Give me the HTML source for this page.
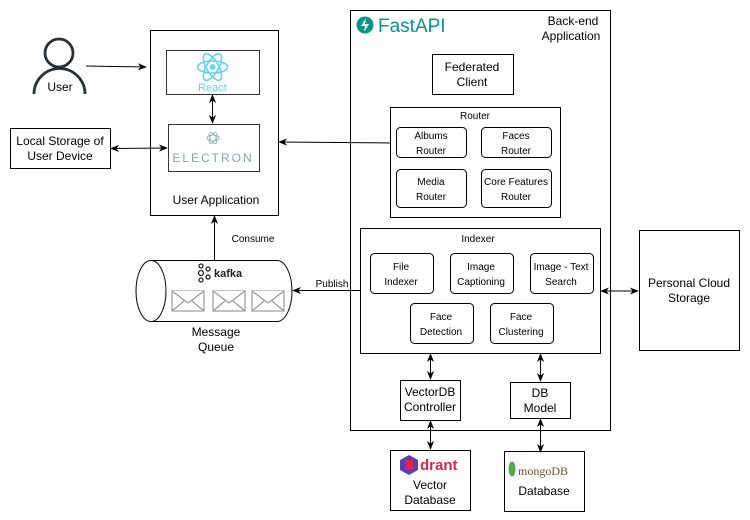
<!DOCTYPE html>
<html><head><meta charset="utf-8"><style>
html,body{margin:0;padding:0;background:#fff;}
svg{display:block;font-family:"Liberation Sans",Arial,sans-serif;}
</style></head><body>
<svg width="750" height="520" viewBox="0 0 750 520" xmlns="http://www.w3.org/2000/svg">
<defs>
<marker id="a" viewBox="0 0 10 10" refX="9" refY="5" markerWidth="9" markerHeight="9" orient="auto-start-reverse"><path d="M0,1 L10,5 L0,9 L3,5 z" fill="#000"/></marker>
</defs>
<rect width="750" height="520" fill="#fff"/>
<g fill="none" stroke="#000" stroke-width="1">
<circle cx="59" cy="53" r="14" stroke-width="2.8" stroke="#2b2f38"/>
<path d="M34,94 A25,25 0 0 1 85,94" stroke-width="2.8" stroke="#2b2f38"/>
<line x1="86" y1="66" x2="146" y2="67" marker-end="url(#a)"/>
<rect x="10.5" y="128.5" width="100" height="40"/>
<line x1="111" y1="148.5" x2="167" y2="148" marker-start="url(#a)" marker-end="url(#a)"/>
<rect x="150.5" y="30.5" width="128" height="185"/>
<rect x="166.5" y="50.5" width="93" height="44" stroke="#333"/>
<rect x="168.5" y="124.5" width="91" height="47" stroke="#333"/>
<line x1="212.5" y1="95" x2="212.5" y2="123" marker-start="url(#a)" marker-end="url(#a)"/>
<line x1="390" y1="143" x2="279" y2="142" marker-end="url(#a)"/>
<rect x="350.5" y="10.5" width="260" height="420"/>
<rect x="432.5" y="54.5" width="81" height="40"/>
<rect x="390.5" y="107.5" width="170" height="110"/>
<rect x="396.5" y="127.5" width="70" height="30" rx="4"/>
<rect x="481.5" y="127.5" width="70" height="30" rx="4"/>
<rect x="396.5" y="169.5" width="70" height="38" rx="4"/>
<rect x="481.5" y="169.5" width="70" height="38" rx="4"/>
<rect x="360.5" y="228.5" width="240" height="125"/>
<rect x="370.5" y="253.5" width="63" height="40" rx="4"/>
<rect x="450.5" y="253.5" width="63" height="40" rx="4"/>
<rect x="530.5" y="253.5" width="63" height="40" rx="4"/>
<rect x="410.5" y="303.5" width="63" height="40" rx="4"/>
<rect x="490.5" y="303.5" width="63" height="40" rx="4"/>
<rect x="639.5" y="230.5" width="100" height="120"/>
<line x1="601" y1="291" x2="638" y2="291" marker-start="url(#a)" marker-end="url(#a)"/>
<rect x="400.5" y="380.5" width="60" height="40"/>
<rect x="510.5" y="382.5" width="60" height="36"/>
<line x1="430.5" y1="354" x2="430.5" y2="379" marker-start="url(#a)" marker-end="url(#a)"/>
<line x1="540.5" y1="354" x2="540.5" y2="381" marker-start="url(#a)" marker-end="url(#a)"/>
<line x1="430.5" y1="421" x2="430.5" y2="449" marker-start="url(#a)" marker-end="url(#a)"/>
<line x1="540.5" y1="419" x2="540.5" y2="452" marker-start="url(#a)" marker-end="url(#a)"/>
<rect x="390.5" y="450.5" width="80" height="60"/>
<rect x="504.5" y="451.5" width="80" height="60"/>
<path d="M151,260.5 L277,260.5 A15,30.5 0 0 1 277,321.5 L151,321.5"/>
<ellipse cx="151" cy="291" rx="15" ry="30.5"/>
<line x1="360" y1="290.5" x2="293" y2="290.5" marker-end="url(#a)"/>
<line x1="214.5" y1="260" x2="214.5" y2="216" marker-end="url(#a)"/>
</g>
<g fill="#fff" stroke="#999" stroke-width="1.2">
<rect x="172" y="291" width="32" height="20"/><path d="M172,291 L188,303 L204,291 M172,311 L184,301 M204,311 L192,301"/>
<rect x="213" y="291" width="32" height="20"/><path d="M213,291 L229,303 L245,291 M213,311 L225,301 M245,311 L233,301"/>
<rect x="252" y="291" width="32" height="20"/><path d="M252,291 L268,303 L284,291 M252,311 L264,301 M284,311 L272,301"/>
</g>
<g fill="none" stroke="#5ed3f3" stroke-width="1.6">
<ellipse cx="212.5" cy="67" rx="15" ry="6"/>
<ellipse cx="212.5" cy="67" rx="15" ry="6" transform="rotate(60 212.5 67)"/>
<ellipse cx="212.5" cy="67" rx="15" ry="6" transform="rotate(-60 212.5 67)"/>
</g>
<circle cx="212.5" cy="67" r="2.8" fill="#5ed3f3"/>
<text x="212.5" y="91" font-size="11" fill="#5ed3f3" text-anchor="middle">React</text>
<g fill="none" stroke="#9fb8bc" stroke-width="1"><ellipse cx="213" cy="138" rx="6" ry="3"/><ellipse cx="213" cy="138" rx="6" ry="3" transform="rotate(60 213 138)"/><ellipse cx="213" cy="138" rx="6" ry="3" transform="rotate(-60 213 138)"/></g>
<text x="213" y="162" font-size="12" fill="#8aa3a8" text-anchor="middle" letter-spacing="2">ELECTRON</text>
<circle cx="365" cy="25" r="8.5" fill="#079588"/>
<path d="M366,18 L361,26 L365,26 L364,32 L369,24 L365,24 z" fill="#fff"/>
<text x="378" y="32" font-size="19" fill="#079588">FastAPI</text>
<g fill="none" stroke="#222" stroke-width="1.3"><circle cx="201" cy="266" r="2"/><circle cx="201" cy="273" r="2.5"/><circle cx="201" cy="280" r="2"/><circle cx="208" cy="269" r="2"/><circle cx="208" cy="277" r="2"/></g>
<text x="214" y="277" font-size="11" font-weight="bold" fill="#222">kafka</text>
<path d="M409,455 L418,460 L418,470 L409,475 L400,470 L400,460 z" fill="#5a3fb3"/>
<rect x="405" y="460" width="8" height="10" fill="#dc244c"/>
<text x="420" y="470" font-size="15" font-weight="bold" fill="#dc244c">drant</text>
<ellipse cx="512" cy="469" rx="3.5" ry="7.5" fill="#4fa94d"/>
<text x="518" y="475" font-size="12" fill="#6b4f2f" font-family="Liberation Serif,serif">mongoDB</text>
<g font-size="12" fill="#000" text-anchor="middle">
<text x="60" y="91">User</text>
<text x="60" y="145">Local Storage of</text><text x="60" y="160">User Device</text>
<text x="216" y="204">User Application</text>
<text x="573" y="25">Back-end</text><text x="571" y="40">Application</text>
<text x="472" y="71">Federated</text><text x="472" y="86">Client</text>
<text x="689" y="287">Personal Cloud</text><text x="689" y="302">Storage</text>
<text x="430" y="396">VectorDB</text><text x="430" y="411">Controller</text>
<text x="540" y="397">DB</text><text x="540" y="412">Model</text>
<text x="430" y="489">Vector</text><text x="430" y="504">Database</text>
<text x="544" y="495">Database</text>
<text x="216" y="336">Message</text><text x="216" y="351">Queue</text>
</g>
<g font-size="10" fill="#000" text-anchor="middle">
<text x="475" y="119">Router</text>
<text x="431" y="139">Albums</text><text x="431" y="154">Router</text>
<text x="516" y="139">Faces</text><text x="516" y="154">Router</text>
<text x="431" y="185">Media</text><text x="431" y="200">Router</text>
<text x="516" y="185">Core Features</text><text x="516" y="200">Router</text>
<text x="478" y="242">Indexer</text>
<text x="401" y="270">File</text><text x="401" y="285">Indexer</text>
<text x="481" y="270">Image</text><text x="481" y="285">Captioning</text>
<text x="561" y="270">Image - Text</text><text x="561" y="285">Search</text>
<text x="441" y="320">Face</text><text x="441" y="335">Detection</text>
<text x="521" y="320">Face</text><text x="521" y="335">Clustering</text>
<text x="253" y="242">Consume</text>
<text x="332" y="287">Publish</text>
</g>
</svg>
</body></html>
